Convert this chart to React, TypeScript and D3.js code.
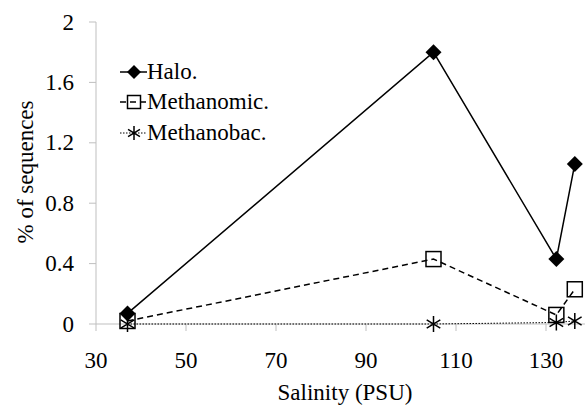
import React from "react";
import * as d3 from "d3";

const salinity = [37, 105, 132.3, 136.4];
const halo = [0.07, 1.8, 0.43, 1.06];
const methanomic = [0.02, 0.43, 0.06, 0.23];
const methanobac = [0, 0, 0.01, 0.02];
const xTicks = [30, 50, 70, 90, 110, 130];
const yTicks = [0, 0.4, 0.8, 1.2, 1.6, 2];
const seriesNames = ["Halo.", "Methanomic.", "Methanobac."];

const W = 585;
const H = 413;
const FONT = "23px 'Liberation Serif', 'Times New Roman', serif";

const x = d3.scaleLinear().domain([30, 140]).range([96, 591]);
const y = d3.scaleLinear().domain([0, 2]).range([324, 22]);

function Diamond({ cx, cy, r }: { cx: number; cy: number; r: number }) {
  return (
    <path
      d={`M${cx},${cy - r}L${cx + r},${cy}L${cx},${cy + r}L${cx - r},${cy}Z`}
      fill="#000"
    />
  );
}
function Square({ cx, cy, s }: { cx: number; cy: number; s: number }) {
  return (
    <rect x={cx - s / 2} y={cy - s / 2} width={s} height={s} fill="none" stroke="#000" strokeWidth={1.5} />
  );
}
function Star({ cx, cy, r }: { cx: number; cy: number; r: number }) {
  const d = r * 0.85;
  return (
    <path
      d={`M${cx},${cy - r}L${cx},${cy + r}M${cx - d},${cy - d * 0.6}L${cx + d},${cy + d * 0.6}M${cx - d},${cy + d * 0.6}L${cx + d},${cy - d * 0.6}`}
      stroke="#000"
      strokeWidth={1.5}
      fill="none"
    />
  );
}

export default function App() {
  const line = d3
    .line<[number, number]>()
    .x((d) => x(d[0]))
    .y((d) => y(d[1]));
  const pts = (vals: number[]) => salinity.map((s, i) => [s, vals[i]] as [number, number]);

  const legendY = [72, 102, 133];
  return (
    <div style={{ position: "fixed", left: 0, top: 0, font: FONT }}>
      <svg width={W} height={H} style={{ font: FONT }}>
        <rect x={0} y={0} width={W} height={H} fill="#fff" />
        {/* axes */}
        <line x1={x(30)} x2={W} y1={y(0)} y2={y(0)} stroke="#bfbfbf" strokeWidth={1} />
        <line x1={x(30)} x2={x(30)} y1={y(2)} y2={y(0)} stroke="#bfbfbf" strokeWidth={1} />
        {xTicks.map((t) => (
          <line key={"xt" + t} x1={x(t)} x2={x(t)} y1={y(0)} y2={y(0) + 7} stroke="#bfbfbf" />
        ))}
        {xTicks.map((t) => (
          <text key={"xl" + t} x={x(t)} y={368} textAnchor="middle" style={{ font: FONT }} fill="#000">
            {String(t)}
          </text>
        ))}
        {yTicks.map((t) => (
          <line key={"yt" + t} x1={x(30) - 7} x2={x(30)} y1={y(t)} y2={y(t)} stroke="#bfbfbf" />
        ))}
        {yTicks.map((t) => (
          <text key={"yl" + t} x={74} y={y(t) + 7.5} textAnchor="end" style={{ font: FONT }} fill="#000">
            {String(t)}
          </text>
        ))}
        <text x={345} y={400} textAnchor="middle" style={{ font: FONT }} fill="#000">
          Salinity (PSU)
        </text>
        <text transform="translate(33,172) rotate(-90)" textAnchor="middle" style={{ font: FONT }} fill="#000">
          % of sequences
        </text>

        {/* series lines */}
        <path d={line(pts(methanobac)) || ""} fill="none" stroke="#000" strokeWidth={1} strokeDasharray="1.5,1.5" />
        <path d={line(pts(methanomic)) || ""} fill="none" stroke="#000" strokeWidth={1.5} strokeDasharray="6,4" />
        <path d={line(pts(halo)) || ""} fill="none" stroke="#000" strokeWidth={1.5} />

        {/* markers */}
        {pts(methanobac).map((p, i) => (
          <Star key={"s" + i} cx={x(p[0])} cy={y(p[1])} r={8} />
        ))}
        {pts(methanomic).map((p, i) => (
          <Square key={"q" + i} cx={x(p[0])} cy={y(p[1])} s={15} />
        ))}
        {pts(halo).map((p, i) => (
          <Diamond key={"d" + i} cx={x(p[0])} cy={y(p[1])} r={8} />
        ))}

        {/* legend */}
        <line x1={120} x2={147} y1={legendY[0]} y2={legendY[0]} stroke="#000" strokeWidth={1.5} />
        <Diamond cx={134} cy={legendY[0]} r={7} />
        <line x1={120} x2={147} y1={legendY[1]} y2={legendY[1]} stroke="#000" strokeWidth={1.5} strokeDasharray="6,4" />
        <Square cx={134} cy={legendY[1]} s={13} />
        <line x1={120} x2={147} y1={legendY[2]} y2={legendY[2]} stroke="#000" strokeWidth={1} strokeDasharray="1.5,1.5" />
        <Star cx={134} cy={legendY[2]} r={7} />
        {seriesNames.map((n, i) => (
          <text key={n} x={147} y={legendY[i] + 7} style={{ font: FONT }} fill="#000">
            {n}
          </text>
        ))}
      </svg>
    </div>
  );
}
